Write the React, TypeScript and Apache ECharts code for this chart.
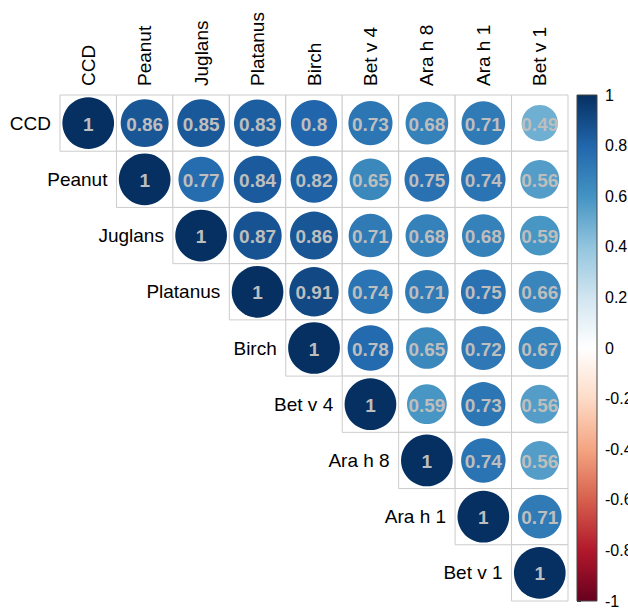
import React, { useEffect, useRef } from "react";
import * as echarts from "echarts";

const names = ["CCD", "Peanut", "Juglans", "Platanus", "Birch", "Bet v 4", "Ara h 8", "Ara h 1", "Bet v 1"];

// upper-triangle rows (starting at the diagonal)
const rowCCD = [1, 0.86, 0.85, 0.83, 0.8, 0.73, 0.68, 0.71, 0.49];
const rowPeanut = [1, 0.77, 0.84, 0.82, 0.65, 0.75, 0.74, 0.56];
const rowJuglans = [1, 0.87, 0.86, 0.71, 0.68, 0.68, 0.59];
const rowPlatanus = [1, 0.91, 0.74, 0.71, 0.75, 0.66];
const rowBirch = [1, 0.78, 0.65, 0.72, 0.67];
const rowBetv4 = [1, 0.59, 0.73, 0.56];
const rowArah8 = [1, 0.74, 0.56];
const rowArah1 = [1, 0.71];
const rowBetv1 = [1];

const rows = [rowCCD, rowPeanut, rowJuglans, rowPlatanus, rowBirch, rowBetv4, rowArah8, rowArah1, rowBetv1];

const scaleTicks = [-1, -0.8, -0.6, -0.4, -0.2, 0, 0.2, 0.4, 0.6, 0.8, 1];
const palette = ["#67001F", "#B2182B", "#D6604D", "#F4A582", "#FDDBC7", "#FFFFFF", "#D1E5F0", "#92C5DE", "#4393C3", "#2166AC", "#053061"];

const FONT = "'Liberation Sans', Arial, sans-serif";

export default function App() {
  const ref = useRef<HTMLDivElement>(null);
  useEffect(() => {
    document.body.style.margin = "0";
    const chart = echarts.init(ref.current!, null, { renderer: "svg" });
    const cells: number[][] = [];
    rows.forEach((r, i) => r.forEach((v, k) => cells.push([i + k, i, v])));
    const diag = names.map((_, i) => [i, i]);
    const top = names.map((_, i) => [i, 0]);

    const option: any = {
      animation: false,
      backgroundColor: "#ffffff",
      visualMap: {
        show: false,
        type: "continuous",
        min: -1,
        max: 1,
        dimension: 2,
        seriesIndex: 0,
        inRange: { color: palette },
      },
      grid: [
        { left: 60, top: 95, width: 508, height: 506, outerBoundsMode: "none", containLabel: false },
        { left: 577, top: 95, width: 20, height: 506, outerBoundsMode: "none", containLabel: false },
      ],
      xAxis: [
        {
          type: "category",
          gridIndex: 0,
          data: names,
          show: false,
        },
        { type: "value", gridIndex: 1, show: false, min: 0, max: 1 },
      ],
      yAxis: [
        {
          type: "category",
          gridIndex: 0,
          data: names,
          inverse: true,
          show: false,
        },
        {
          type: "value",
          gridIndex: 1,
          position: "right",
          min: -1,
          max: 1,
          interval: 0.2,
          axisLine: { show: false },
          splitLine: { show: false },
          axisTick: { show: true, length: 4, lineStyle: { color: "#333" } },
          axisLabel: { margin: 8, fontSize: 16, color: "#000", fontFamily: FONT },
        },
      ],
      series: [
        {
          type: "custom",
          xAxisIndex: 0,
          yAxisIndex: 0,
          data: cells,
          renderItem: (params: any, api: any) => {
            const c = api.coord([api.value(0), api.value(1)]);
            const s = api.size([1, 1]);
            const v = api.value(2);
            const r = 0.46 * Math.min(s[0], s[1]) * Math.sqrt(Math.abs(v));
            return {
              type: "group",
              children: [
                {
                  type: "rect",
                  shape: { x: c[0] - s[0] / 2, y: c[1] - s[1] / 2, width: s[0], height: s[1] },
                  style: { fill: "#fff", stroke: "#CCCCCC", lineWidth: 1 },
                },
                {
                  type: "circle",
                  shape: { cx: c[0], cy: c[1], r },
                  style: { fill: api.visual("color") },
                },
                {
                  type: "text",
                  x: c[0],
                  y: c[1] + 1,
                  style: {
                    text: String(v),
                    fill: "#BEBEBE",
                    font: `bold 19px ${FONT}`,
                    align: "center",
                    verticalAlign: "middle",
                  },
                },
              ],
            };
          },
        },
        {
          type: "custom",
          xAxisIndex: 0,
          yAxisIndex: 0,
          data: diag,
          renderItem: (params: any, api: any) => {
            const c = api.coord([api.value(0), api.value(1)]);
            const s = api.size([1, 1]);
            return {
              type: "text",
              x: c[0] - s[0] / 2 - 9,
              y: c[1],
              style: {
                text: names[params.dataIndex],
                fill: "#000",
                font: `19px ${FONT}`,
                align: "right",
                verticalAlign: "middle",
              },
            };
          },
        },
        {
          type: "custom",
          xAxisIndex: 0,
          yAxisIndex: 0,
          data: top,
          renderItem: (params: any, api: any) => {
            const c = api.coord([api.value(0), api.value(1)]);
            const s = api.size([1, 1]);
            return {
              type: "text",
              x: c[0],
              y: c[1] - s[1] / 2 - 9,
              rotation: Math.PI / 2,
              style: {
                text: names[params.dataIndex],
                fill: "#000",
                font: `19px ${FONT}`,
                align: "left",
                verticalAlign: "middle",
              },
            };
          },
        },
        {
          type: "custom",
          xAxisIndex: 1,
          yAxisIndex: 1,
          data: [[0, scaleTicks[scaleTicks.length - 1], scaleTicks[0]]],
          renderItem: (params: any, api: any) => {
            const p1 = api.coord([0, api.value(1)]);
            const p2 = api.coord([1, api.value(2)]);
            const stops = palette.map((col, i) => ({ offset: i / (palette.length - 1), color: col }));
            return {
              type: "rect",
              shape: { x: p1[0], y: p1[1], width: p2[0] - p1[0], height: p2[1] - p1[1] },
              style: {
                fill: new echarts.graphic.LinearGradient(0, 1, 0, 0, stops),
                stroke: "#444",
                lineWidth: 1,
              },
            };
          },
        },
      ],
    };
    chart.setOption(option);
    return () => chart.dispose();
  }, []);
  return <div ref={ref} style={{ width: 628, height: 608, position: "fixed", left: 0, top: 0 }} />;
}
